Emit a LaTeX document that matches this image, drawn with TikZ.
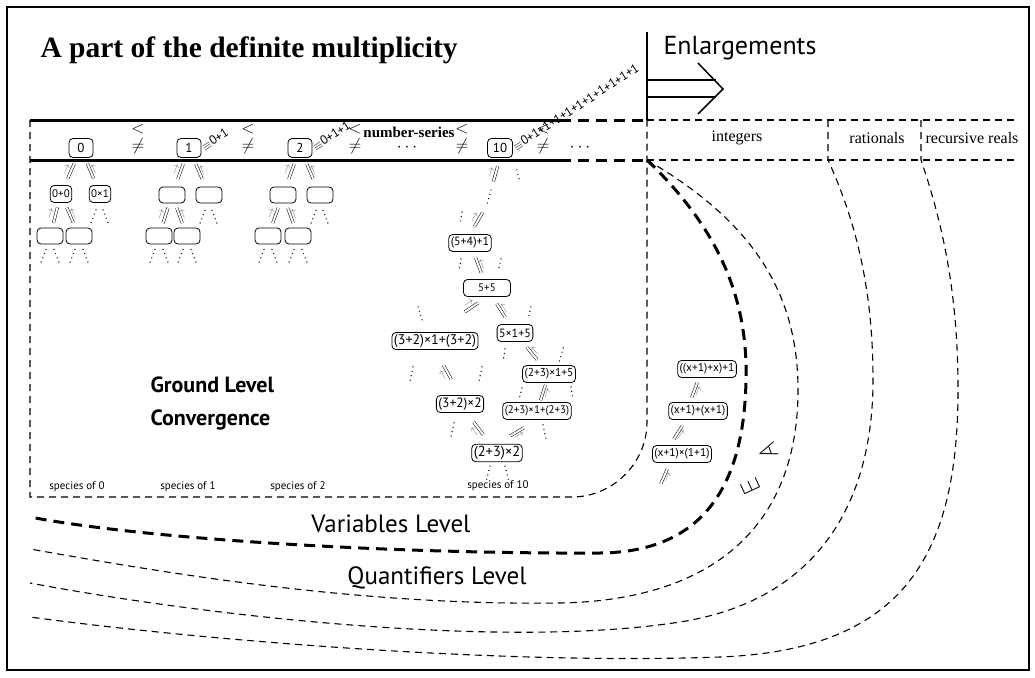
\documentclass[tikz,border=0pt]{standalone}
\usepackage{fontspec}
\setmainfont{Liberation Serif}
\setsansfont{PT Sans}
\usetikzlibrary{calc}

\tikzset{
	box/.style={draw, rounded corners=4pt, line width=.8pt, inner sep=2pt, minimum height=17pt, font=\sffamily\fontsize{#1}{#1}\selectfont},
	box/.default=13,
	ebox/.style={draw, rounded corners=4pt, line width=.8pt, minimum width=26pt, minimum height=16pt},
	conv/.style={double, line width=.5pt, double distance=2pt, to path={($(\tikztostart)!#1!(\tikztotarget)!8pt!(\tikztostart)$) -- ($(\tikztostart)!#1!(\tikztotarget)!8pt!(\tikztotarget)$) \tikztonodes}},
	conv/.default=.5,
	al/.style={midway, sloped, allow upside down, above=2pt, inner sep=0pt, text=black!55, font=\fontsize{11}{11}\selectfont},
	ar/.style={midway, sloped, allow upside down, below=2pt, inner sep=0pt, text=black!55, font=\fontsize{11}{11}\selectfont},
	dots/.style={line width=1.4pt, dash pattern=on 0pt off 4.5pt, line cap=round},
	thindash/.style={line width=1.1pt, dash pattern=on 7pt off 5pt},
	thickdash/.style={line width=3pt, dash pattern=on 11pt off 7pt},
	rel/.style={align=center, font=\fontsize{18}{17}\selectfont},
	eqlab/.style={anchor=west, rotate=33, inner sep=1pt, font=\sffamily\fontsize{12.5}{12.5}\selectfont},
	spec/.style={font=\sffamily\fontsize{11}{11}\selectfont},
	col/.style={font=\fontsize{16}{16}\selectfont},
	level/.style={font=\sffamily\fontsize{25}{25}\selectfont},
	quant/.style={font=\fontsize{25}{25}\selectfont}
}

\begin{document}
\begin{tikzpicture}[x=1pt, y=-1pt]
	\useasboundingbox (0,0) rectangle (1035,677);
	\draw[line width=2pt] (7,7) rectangle (1029,670);

	\node[anchor=base west, font=\bfseries\fontsize{29.5}{29.5}\selectfont] (title) at (37,57) {A part of the definite multiplicity};
	\node[anchor=base west, font=\sffamily\fontsize{26}{26}\selectfont] (enl) at (660,55) {Enlargements};
	\draw[line width=1.5pt] (647,32) -- (647,120);
	\draw[line width=1.5pt] (647,80) -- (716,80);
	\draw[line width=1.5pt] (647,97) -- (716,97);
	\draw[line width=1.5pt] (698,63) -- (723,89) -- (698,114);

	\draw[line width=3pt] (30,120) -- (560,120);
	\draw[line width=3pt] (30,160) -- (560,160);
	\draw[thickdash] (560,120) -- (647,120);
	\draw[thickdash] (560,160) -- (647,160);
	\draw[thindash] (647,120) -- (1017,120);
	\draw[thindash] (647,160) -- (1017,160);
	\draw[thindash] (30,120) -- (30,497) -- (572,497) .. controls (613,497) and (647,463) .. (647,422) -- (647,120);

	\node[box, minimum width=24pt, minimum height=19pt] (n0) at (81,148) {0};
	\node[rel] (r1) at (138,139) {$<$\\$\neq$};
	\node[box, minimum width=24pt, minimum height=19pt] (n1) at (189,148) {1};
	\node[eqlab] (e1) at (n1.east) {$\equiv$0+1};
	\node[rel] (r2) at (248,139) {$<$\\$\neq$};
	\node[box, minimum width=24pt, minimum height=19pt] (n2) at (300,148) {2};
	\node[eqlab] (e2) at (n2.east) {$\equiv$0+1+1};
	\node[rel] (r3) at (355,139) {$<$\\$\neq$};
	\node[font=\bfseries\fontsize{15}{15}\selectfont] (ns) at (409,132) {number-series};
	\node[font=\fontsize{16}{16}\selectfont] (d1) at (407,148) {$\cdots$};
	\node[rel] (r4) at (462,139) {$<$\\$\neq$};
	\node[box, minimum width=25pt, minimum height=19pt] (n10) at (500,148) {10};
	\node[eqlab] (e10) at (n10.east) {$\equiv$0+1+1+1+1+1+1+1+1+1+1};
	\node[rel] (r5) at (543,139) {$<$\\$\neq$};
	\node[font=\fontsize{16}{16}\selectfont] (d2) at (580,148) {$\cdots$};

	\node[col] (cint) at (737,138) {integers};
	\node[col] (crat) at (877,138) {rationals};
	\node[col] (crec) at (972,138) {recursive reals};

	\node[box=11] (p0) at (61,194) {0+0};
	\node[box=11] (q0) at (100,194) {0×1};
	\node[ebox] (pp0) at (50,236) {};
	\node[ebox] (pq0) at (79,236) {};
	\draw[conv] (p0) to node[al]{$\rightarrow$} (n0);
	\draw[conv] (q0) to node[ar]{$\rightarrow$} (n0);
	\draw[conv] (pp0) to node[al]{$\rightarrow$} (p0);
	\draw[conv] (pq0) to node[ar]{$\rightarrow$} (p0);
	\draw[dots] (q0.south) ++(-4,7) -- ++(-5,13);
	\draw[dots] (q0.south) ++(3,7) -- ++(5,13);
	\draw[dots] (pp0.south) ++(-4,5) -- ++(-5,13);
	\draw[dots] (pp0.south) ++(4,5) -- ++(5,13);
	\draw[dots] (pq0.south) ++(-4,5) -- ++(-5,13);
	\draw[dots] (pq0.south) ++(4,5) -- ++(5,13);

	\node[ebox] (p1) at (172,195) {};
	\node[ebox] (q1) at (209,195) {};
	\node[ebox] (pp1) at (159,236) {};
	\node[ebox] (pq1) at (187,236) {};
	\draw[conv] (p1) to node[al]{$\rightarrow$} (n1);
	\draw[conv] (q1) to node[ar]{$\rightarrow$} (n1);
	\draw[conv] (pp1) to node[al]{$\rightarrow$} (p1);
	\draw[conv] (pq1) to node[ar]{$\rightarrow$} (p1);
	\draw[dots] (q1.south) ++(-4,7) -- ++(-5,13);
	\draw[dots] (q1.south) ++(3,7) -- ++(5,13);
	\draw[dots] (pp1.south) ++(-4,5) -- ++(-5,13);
	\draw[dots] (pp1.south) ++(4,5) -- ++(5,13);
	\draw[dots] (pq1.south) ++(-4,5) -- ++(-5,13);
	\draw[dots] (pq1.south) ++(4,5) -- ++(5,13);

	\node[ebox] (p2) at (283,195) {};
	\node[ebox] (q2) at (320,195) {};
	\node[ebox] (pp2) at (268,236) {};
	\node[ebox] (pq2) at (298,236) {};
	\draw[conv] (p2) to node[al]{$\rightarrow$} (n2);
	\draw[conv] (q2) to node[ar]{$\rightarrow$} (n2);
	\draw[conv] (pp2) to node[al]{$\rightarrow$} (p2);
	\draw[conv] (pq2) to node[ar]{$\rightarrow$} (p2);
	\draw[dots] (q2.south) ++(-4,7) -- ++(-5,13);
	\draw[dots] (q2.south) ++(3,7) -- ++(5,13);
	\draw[dots] (pp2.south) ++(-4,5) -- ++(-5,13);
	\draw[dots] (pp2.south) ++(4,5) -- ++(5,13);
	\draw[dots] (pq2.south) ++(-4,5) -- ++(-5,13);
	\draw[dots] (pq2.south) ++(4,5) -- ++(5,13);

	\node[box=12] (a1) at (470,243) {(5+4)+1};
	\node[box=11, minimum width=47pt] (a2) at (487,288) {5+5};
	\node[box=14] (a3l) at (435,341) {(3+2)×1+(3+2)};
	\node[box=12] (a3r) at (515,333) {5×1+5};
	\node[box=11.5] (a4r) at (549,374) {(2+3)×1+5};
	\node[box=13.5] (a5l) at (460,404) {(3+2)×2};
	\node[box=11] (a5r) at (537,411) {(2+3)×1+(2+3)};
	\node[box=14.5] (a6) at (497,453) {(2+3)×2};
	\coordinate (k1) at (491,190);
	\coordinate (k2) at (487,205);
	\draw[conv] (k1) to node[al]{$\rightarrow$} (n10.south);
	\draw[dots] (k1) -- (k2);
	\draw[conv] (a1.north) to node[al]{$\rightarrow$} (k2);
	\draw[conv] (a2) to node[ar]{$\rightarrow$} (a1);
	\draw[conv=.7] (a3l.north) to node[al]{$\rightarrow$} (a2.south);
	\draw[conv] (a3r) to node[ar]{$\rightarrow$} (a2);
	\draw[conv] (a4r) to node[ar]{$\rightarrow$} (a3r);
	\draw[conv] (a5l.north) to node[al]{$\rightarrow$} (a3l.south);
	\draw[conv] (a5r) to node[ar]{$\rightarrow$} (a4r);
	\draw[conv] (a6) to node[al]{$\rightarrow$} (a5l);
	\draw[conv] (a6.north) to node[ar]{$\rightarrow$} (a5r.south);
	\draw[dots] (n10.south east) ++(4,12) -- ++(3,13);
	\draw[dots] (a1.north) ++(-8,-22) -- ++(-2,12);
	\draw[dots] (a1.south) ++(-9,7) -- ++(-2,12);
	\draw[dots] (a1.south) ++(31,7) -- ++(-3,13);
	\draw[dots] (a2.south west) ++(-45,10) -- ++(4,13);
	\draw[dots] (a2.south east) ++(20,10) -- ++(-3,13);
	\draw[dots] (a3r.south) ++(-10,7) -- ++(-2,13);
	\draw[dots] (a3r.south east) ++(30,6) -- ++(-4,14);
	\draw[dots] (a3l.south) ++(-22,17) -- ++(-3,14);
	\draw[dots] (a3l.south) ++(47,17) -- ++(-3,14);
	\draw[dots] (a4r.south) ++(-27,5) -- ++(-3,12);
	\draw[dots] (a4r.south) ++(22,4) -- ++(2,12);
	\draw[dots] (a5l.south) ++(-6,10) -- ++(-3,14);
	\draw[dots] (a5r.south) ++(6,5) -- ++(3,14);
	\draw[dots] (a6.south) ++(-7,4) -- ++(-4,16);
	\draw[dots] (a6.south) ++(8,4) -- ++(4,16);

	\node[spec] (s0) at (77,487) {species of 0};
	\node[spec] (s1) at (188,487) {species of 1};
	\node[spec] (s2) at (298,487) {species of 2};
	\node[spec] (s10) at (498,486) {species of 10};
	\node[anchor=west, align=left, font=\sffamily\bfseries\fontsize{22}{33}\selectfont] (glc) at (147,403) {Ground Level\\Convergence};

	\node[box=11.5] (x3) at (707,369) {((x+1)+x)+1};
	\node[box=11.5] (x2) at (698,411) {(x+1)+(x+1)};
	\node[box=11.5] (x1) at (682,454) {(x+1)×(1+1)};
	\coordinate (x0) at (658,490);
	\draw[conv] (x0) to node[ar]{$\rightarrow$} ([xshift=-12pt]x1.south);
	\draw[conv] ([xshift=-12pt]x1.north) to node[ar]{$\rightarrow$} ([xshift=-12pt]x2.south);
	\draw[conv] ([xshift=-8pt]x2.north) to node[ar]{$\rightarrow$} ([xshift=-8pt]x3.south);

	\draw[thickdash] (647,160) .. controls (720,230) and (748,300) .. (746,380)
		.. controls (744,490) and (700,552) .. (600,553)
		.. controls (400,554) and (150,540) .. (30,517);
	\draw[thindash] (647,160) .. controls (750,220) and (798,290) .. (798,390)
		.. controls (798,520) and (720,600) .. (560,603)
		.. controls (350,606) and (150,570) .. (30,549);
	\draw[thindash] (828,120) -- (828,160) .. controls (860,230) and (873,300) .. (873,380)
		.. controls (873,500) and (820,600) .. (680,622)
		.. controls (500,650) and (200,615) .. (30,583);
	\draw[thindash] (921,120) -- (921,160) .. controls (945,230) and (958,300) .. (958,390)
		.. controls (958,560) and (900,650) .. (720,657)
		.. controls (500,665) and (200,640) .. (30,617);

	\node[level] (vl) at (391,524) {Variables Level};
	\node[level] (ql) at (437,578) {Quantifiers Level};
	\node[quant, rotate=-70] (fa) at (768,451) {$\forall$};
	\node[quant, rotate=-65] (ex) at (750,486) {$\exists$};
\end{tikzpicture}
\end{document}
